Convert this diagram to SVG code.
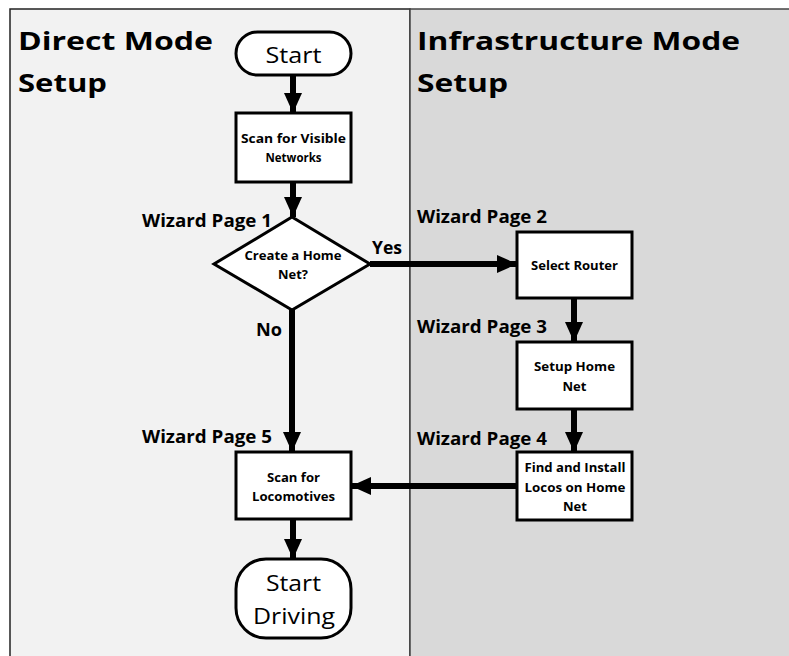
<svg xmlns="http://www.w3.org/2000/svg" width="789" height="656" viewBox="0 0 789 656">
<style>
.t{font-family:"Open Sans","Liberation Sans",Arial,sans-serif;fill:#000}
.h{font-size:25.5px;font-weight:bold}
.w{font-size:17px;font-weight:bold}
.n{font-size:13px;font-weight:bold;text-anchor:middle}
.term{font-size:22px;text-anchor:middle}
.box{fill:#fff;stroke:#000;stroke-width:3}
.c{stroke:#000;stroke-width:6;fill:none}
</style>
<defs>
<marker id="ah" markerUnits="userSpaceOnUse" markerWidth="20" markerHeight="20" viewBox="0 0 20 20" refX="20" refY="10" orient="auto">
<path d="M0,1 L20,10 L0,19 Z" fill="#000"/>
</marker>
</defs>
<rect x="0" y="0" width="789" height="656" fill="#fff"/>
<rect x="10" y="9" width="400" height="660" fill="#f2f2f2" stroke="#222" stroke-width="1.5"/>
<rect x="410" y="9" width="390" height="660" fill="#d9d9d9" stroke="#444" stroke-width="1.5"/>
<g id="headings">
<text class="t h" x="18" y="50" textLength="195" lengthAdjust="spacingAndGlyphs">Direct Mode</text>
<text class="t h" x="18" y="92" textLength="89" lengthAdjust="spacingAndGlyphs">Setup</text>
<text class="t h" x="417" y="50" textLength="323" lengthAdjust="spacingAndGlyphs">Infrastructure Mode</text>
<text class="t h" x="417" y="92" textLength="91" lengthAdjust="spacingAndGlyphs">Setup</text>
</g>
<g id="labels">
<text class="t w" x="142" y="227" textLength="130" lengthAdjust="spacingAndGlyphs">Wizard Page 1</text>
<text class="t w" x="417" y="223" textLength="130" lengthAdjust="spacingAndGlyphs">Wizard Page 2</text>
<text class="t w" x="417" y="333" textLength="130" lengthAdjust="spacingAndGlyphs">Wizard Page 3</text>
<text class="t w" x="417" y="445" textLength="130" lengthAdjust="spacingAndGlyphs">Wizard Page 4</text>
<text class="t w" x="142" y="443" textLength="130" lengthAdjust="spacingAndGlyphs">Wizard Page 5</text>
<text class="t w" x="372" y="254" textLength="30" lengthAdjust="spacingAndGlyphs">Yes</text>
<text class="t w" x="256" y="336" textLength="26" lengthAdjust="spacingAndGlyphs">No</text>
</g>
<g id="connectors">
<line class="c" x1="293" y1="75" x2="293" y2="113" marker-end="url(#ah)"/>
<line class="c" x1="293" y1="182" x2="293" y2="217" marker-end="url(#ah)"/>
<line class="c" x1="370" y1="264" x2="517" y2="264" marker-end="url(#ah)"/>
<line class="c" x1="574" y1="298" x2="574" y2="342" marker-end="url(#ah)"/>
<line class="c" x1="574" y1="409" x2="574" y2="452" marker-end="url(#ah)"/>
<line class="c" x1="517" y1="486" x2="351" y2="486" marker-end="url(#ah)"/>
<line class="c" x1="292" y1="310" x2="292" y2="452" marker-end="url(#ah)"/>
<line class="c" x1="293" y1="519" x2="293" y2="559" marker-end="url(#ah)"/>
</g>
<g id="start">
<rect class="box" x="236" y="32" width="115" height="43" rx="21.5" ry="21.5"/>
<text class="t term" x="293.5" y="63" textLength="56" lengthAdjust="spacingAndGlyphs">Start</text>
</g>
<g id="scan-networks">
<rect class="box" x="236" y="113" width="115" height="69"/>
<text class="t n" x="293.5" y="143" textLength="105" lengthAdjust="spacingAndGlyphs">Scan for Visible</text>
<text class="t n" x="293.5" y="162" textLength="56" lengthAdjust="spacingAndGlyphs">Networks</text>
</g>
<g id="decision">
<polygon class="box" points="292,217 370,264 292,310 214,264"/>
<text class="t n" x="293" y="260" textLength="97" lengthAdjust="spacingAndGlyphs">Create a Home</text>
<text class="t n" x="293" y="279" textLength="30" lengthAdjust="spacingAndGlyphs">Net?</text>
</g>
<g id="select-router">
<rect class="box" x="517" y="232" width="115" height="66"/>
<text class="t n" x="574.5" y="270" textLength="87" lengthAdjust="spacingAndGlyphs">Select Router</text>
</g>
<g id="setup-home-net">
<rect class="box" x="517" y="342" width="115" height="67"/>
<text class="t n" x="574.5" y="371" textLength="81" lengthAdjust="spacingAndGlyphs">Setup Home</text>
<text class="t n" x="574.5" y="391" textLength="24" lengthAdjust="spacingAndGlyphs">Net</text>
</g>
<g id="find-install">
<rect class="box" x="517" y="452" width="115" height="68"/>
<text class="t n" x="575" y="472" textLength="101" lengthAdjust="spacingAndGlyphs">Find and Install</text>
<text class="t n" x="575" y="492" textLength="101" lengthAdjust="spacingAndGlyphs">Locos on Home</text>
<text class="t n" x="575" y="511" textLength="24" lengthAdjust="spacingAndGlyphs">Net</text>
</g>
<g id="scan-locos">
<rect class="box" x="236" y="452" width="115" height="67"/>
<text class="t n" x="293.5" y="482" textLength="53" lengthAdjust="spacingAndGlyphs">Scan for</text>
<text class="t n" x="293.5" y="501" textLength="83" lengthAdjust="spacingAndGlyphs">Locomotives</text>
</g>
<g id="start-driving">
<rect class="box" x="236" y="559" width="115" height="79" rx="30" ry="30"/>
<text class="t term" x="293.5" y="591" textLength="55" lengthAdjust="spacingAndGlyphs">Start</text>
<text class="t term" x="294" y="624" textLength="82" lengthAdjust="spacingAndGlyphs">Driving</text>
</g>
</svg>
